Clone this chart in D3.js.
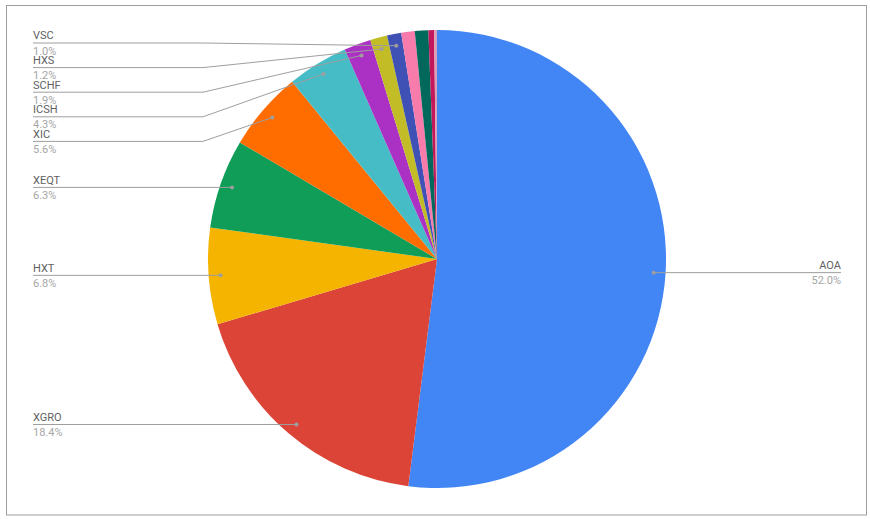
<!DOCTYPE html>
<html>
<head>
<meta charset="utf-8">
<script src="https://cdn.jsdelivr.net/npm/d3@7"></script>
<style>
  body { margin: 0; background: #fff; }
  svg { display: block; font-family: Roboto, Arial, sans-serif; }
</style>
</head>
<body>
<div id="chart"></div>
<script>
var width = 870;
var height = 519;

// slices, clockwise from 12 o'clock
var names = ["AOA", "XGRO", "HXT", "XEQT", "XIC", "ICSH", "SCHF", "HXS", "VSC", "", "", "", ""];
var values = [52.0, 18.4, 6.8, 6.3, 5.6, 4.3, 1.9, 1.2, 1.0, 0.95, 0.95, 0.4, 0.2];
var colors = ["#4285f4", "#db4437", "#f4b400", "#0f9d58", "#ff6d01", "#46bdc6", "#ab30c4",
              "#c2bc26", "#3f51b5", "#f77bab", "#00695c", "#c2185b", "#d9a0b6"];

var cx = 437, cy = 259, radius = 229;
var labelMinPct = 1.0;

var svg = d3.select("#chart")
    .append("svg")
    .attr("width", width)
    .attr("height", height);

svg.append("rect")
    .attr("x", 6.5)
    .attr("y", 5.5)
    .attr("width", 860)
    .attr("height", 509.5)
    .attr("fill", "#fff")
    .attr("stroke", "#9e9e9e")
    .attr("stroke-width", 1);

var total = d3.sum(values);
var data = values.map(function (v, i) {
    return { name: names[i], value: v, color: colors[i], pct: v / total * 100 };
});

var pie = d3.pie().sort(null).value(function (d) { return d.value; });
var arcs = pie(data);
var arc = d3.arc().innerRadius(0).outerRadius(radius);

var g = svg.append("g").attr("transform", "translate(" + cx + "," + cy + ")");

g.selectAll("path.slice")
    .data(arcs)
    .enter()
    .append("path")
    .attr("class", "slice")
    .attr("d", arc)
    .attr("fill", function (d) { return d.data.color; });

// leader dots sit near the rim of each slice
var dotR = radius * 0.948;
var labelled = arcs.filter(function (d) { return +d.data.pct.toFixed(1) >= labelMinPct; })
    .map(function (d) {
        var a = (d.startAngle + d.endAngle) / 2;
        return {
            name: d.data.name,
            pct: d.data.pct.toFixed(1) + "%",
            x: cx + dotR * Math.sin(a),
            y: cy - dotR * Math.cos(a)
        };
    });

// spread labels on one side so they don't overlap
function layout(items, gap, minY, maxY) {
    items.sort(function (a, b) { return a.y - b.y; });
    var groups = items.map(function (d) { return { items: [d], pos: d.y }; });
    function place(gr) {
        var mean = d3.mean(gr.items, function (d) { return d.y; });
        var top = mean - (gr.items.length - 1) * gap / 2;
        top = Math.max(minY, Math.min(top, maxY - (gr.items.length - 1) * gap));
        gr.pos = top;
    }
    var changed = true;
    while (changed) {
        changed = false;
        for (var i = 0; i < groups.length - 1; i++) {
            var a = groups[i], b = groups[i + 1];
            if (a.pos + a.items.length * gap > b.pos + 0.01) {
                a.items = a.items.concat(b.items);
                place(a);
                groups.splice(i + 1, 1);
                changed = true;
                break;
            }
        }
    }
    groups.forEach(function (gr) {
        gr.items.forEach(function (d, k) { d.ly = gr.pos + k * gap; });
    });
}

var left = labelled.filter(function (d) { return d.x < cx; });
var right = labelled.filter(function (d) { return d.x >= cx; });
layout(left, 24.6, 43, 500);
layout(right, 24.6, 43, 500);

var leftX = 33, leftElbow = 203;
var rightX = 841, rightElbow = 671;

var lbl = svg.append("g");

function drawLabel(d, side) {
    var tx = side === "left" ? leftX : rightX;
    var ex = side === "left" ? leftElbow : rightElbow;
    lbl.append("path")
        .attr("d", d3.line()([[tx, d.ly], [ex, d.ly], [d.x, d.y]]))
        .attr("fill", "none")
        .attr("stroke", "#9e9e9e")
        .attr("stroke-width", 1);
    lbl.append("circle")
        .attr("cx", d.x)
        .attr("cy", d.y)
        .attr("r", 2)
        .attr("fill", "#9e9e9e");
    var anchor = side === "left" ? "start" : "end";
    lbl.append("text")
        .attr("x", tx)
        .attr("y", d.ly - 3.7)
        .attr("text-anchor", anchor)
        .attr("font-size", 11)
        .attr("fill", "#616161")
        .text(d.name);
    lbl.append("text")
        .attr("x", tx)
        .attr("y", d.ly + 11.6)
        .attr("text-anchor", anchor)
        .attr("font-size", 11)
        .attr("fill", "#a6a6a6")
        .text(d.pct);
}

left.forEach(function (d) { drawLabel(d, "left"); });
right.forEach(function (d) { drawLabel(d, "right"); });
</script>
</body>
</html>
